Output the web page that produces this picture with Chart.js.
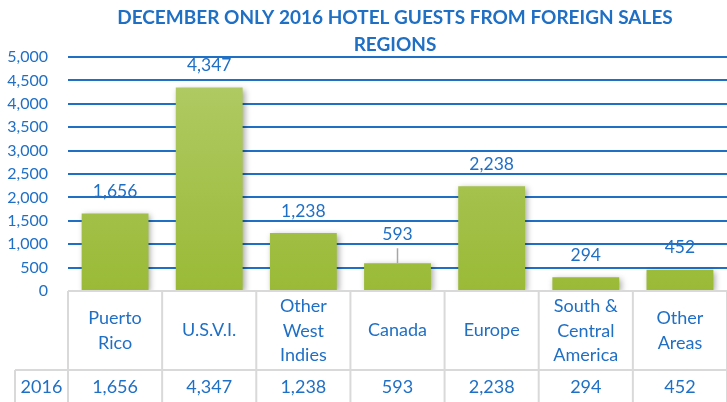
<!DOCTYPE html>
<html>
<head>
<meta charset="utf-8">
<script src="https://cdn.jsdelivr.net/npm/chart.js@4/dist/chart.umd.min.js"></script>
<style>
  html, body { margin: 0; padding: 0; background: #fff; }
  #wrap { width: 727px; height: 402px; }
</style>
</head>
<body>
<div id="wrap"><canvas id="guestsChart" width="727" height="402"></canvas></div>
<script>
// data
const categories = [
    ['Puerto', 'Rico'],
    ['U.S.V.I.'],
    ['Other', 'West', 'Indies'],
    ['Canada'],
    ['Europe'],
    ['South &', 'Central', 'America'],
    ['Other', 'Areas']
];
const guests2016 = [1656, 4347, 1238, 593, 2238, 294, 452];
const seriesName = '2016';
const yTicks = [0, 500, 1000, 1500, 2000, 2500, 3000, 3500, 4000, 4500, 5000];
const titleLines = ['DECEMBER ONLY 2016 HOTEL GUESTS FROM FOREIGN SALES', 'REGIONS'];
const leaderLabels = ['Canada'];

const BLUE = '#1f6fc5';
const FONT = 'Lato, "Open Sans", sans-serif';

document.addEventListener('DOMContentLoaded', () => {
    const ctx = document.getElementById('guestsChart').getContext('2d');

    const fmt = v => v.toLocaleString('en-US');

    // title, bar shadows, value labels and data table
    const extras = {
        id: 'extras',
        beforeDatasetsDraw(chart) {
            const c = chart.ctx;
            c.save();
            c.shadowColor = 'rgba(0,0,0,0.35)';
            c.shadowBlur = 6;
            c.shadowOffsetX = 2;
            c.shadowOffsetY = 2;
        },
        afterDatasetsDraw(chart) {
            chart.ctx.restore();
        },
        afterDraw(chart) {
            const c = chart.ctx;
            const area = chart.chartArea;
            const x = chart.scales.x;
            const meta = chart.getDatasetMeta(0);

            // title
            c.save();
            c.fillStyle = BLUE;
            c.font = 'bold 19px ' + FONT;
            c.textAlign = 'center';
            c.textBaseline = 'middle';
            titleLines.forEach((t, i) => c.fillText(t, 395, 18 + i * 27));

            // value labels above bars
            c.font = '17.5px ' + FONT;
            meta.data.forEach((bar, i) => {
                const name = categories[i].join(' ');
                const hasLeader = leaderLabels.includes(name);
                const ly = bar.y - (hasLeader ? 29 : 22);
                c.fillStyle = BLUE;
                c.fillText(fmt(guests2016[i]), bar.x, ly);
                if (hasLeader) {
                    c.strokeStyle = '#a6a6a6';
                    c.lineWidth = 1.5;
                    c.beginPath();
                    c.moveTo(bar.x, ly + 14);
                    c.lineTo(bar.x, bar.y);
                    c.stroke();
                }
            });

            // data table
            const top = area.bottom;
            const rowSplit = top + 79;
            const bottom = chart.height + 2;
            const step = (area.right - area.left) / categories.length;
            c.strokeStyle = '#d9d9d9';
            c.lineWidth = 2;
            c.beginPath();
            c.moveTo(area.left, top);
            c.lineTo(area.right, top);
            c.moveTo(15, rowSplit);
            c.lineTo(area.right, rowSplit);
            c.moveTo(15, rowSplit);
            c.lineTo(15, bottom);
            for (let i = 0; i <= categories.length; i++) {
                const lx = area.left + i * step;
                c.moveTo(lx, top);
                c.lineTo(lx, bottom);
            }
            c.stroke();

            c.fillStyle = BLUE;
            c.font = '18px ' + FONT;
            const headMid = (top + rowSplit) / 2;
            categories.forEach((lines, i) => {
                const cx = x.getPixelForValue(i);
                const y0 = headMid - (lines.length - 1) * 12;
                lines.forEach((t, j) => c.fillText(t, cx, y0 + j * 24.5));
                c.fillText(fmt(guests2016[i]), cx, rowSplit + 17);
            });
            c.fillText(seriesName, (15 + area.left) / 2, rowSplit + 17);
            c.restore();
        }
    };

    new Chart(ctx, {
        type: 'bar',
        data: {
            labels: categories.map(l => l.join(' ')),
            datasets: [{
                label: seriesName,
                data: guests2016,
                backgroundColor: context => {
                    const area = context.chart.chartArea;
                    if (!area) return '#a5c24a';
                    const g = context.chart.ctx.createLinearGradient(0, area.top, 0, area.bottom);
                    g.addColorStop(0, '#b2cc68');
                    g.addColorStop(1, '#9aba37');
                    return g;
                },
                borderWidth: 0,
                barPercentage: 0.71,
                categoryPercentage: 1
            }]
        },
        options: {
            responsive: false,
            animation: false,
            layout: { padding: { top: 57, bottom: 111, left: 0, right: 0 } },
            plugins: {
                legend: { display: false },
                tooltip: { enabled: false }
            },
            scales: {
                x: { display: false },
                y: {
                    min: 0,
                    max: 5000,
                    afterFit: scale => { scale.width = 68; },
                    afterBuildTicks: scale => { scale.ticks = yTicks.map(v => ({ value: v })); },
                    border: { display: false },
                    grid: {
                        drawTicks: false,
                        lineWidth: 2,
                        color: c => c.tick && c.tick.value === 0 ? 'rgba(0,0,0,0)' : BLUE
                    },
                    ticks: {
                        padding: 20,
                        color: BLUE,
                        font: { size: 16, family: FONT },
                        callback: v => fmt(v)
                    }
                }
            }
        },
        plugins: [extras]
    });
});
</script>
</body>
</html>
